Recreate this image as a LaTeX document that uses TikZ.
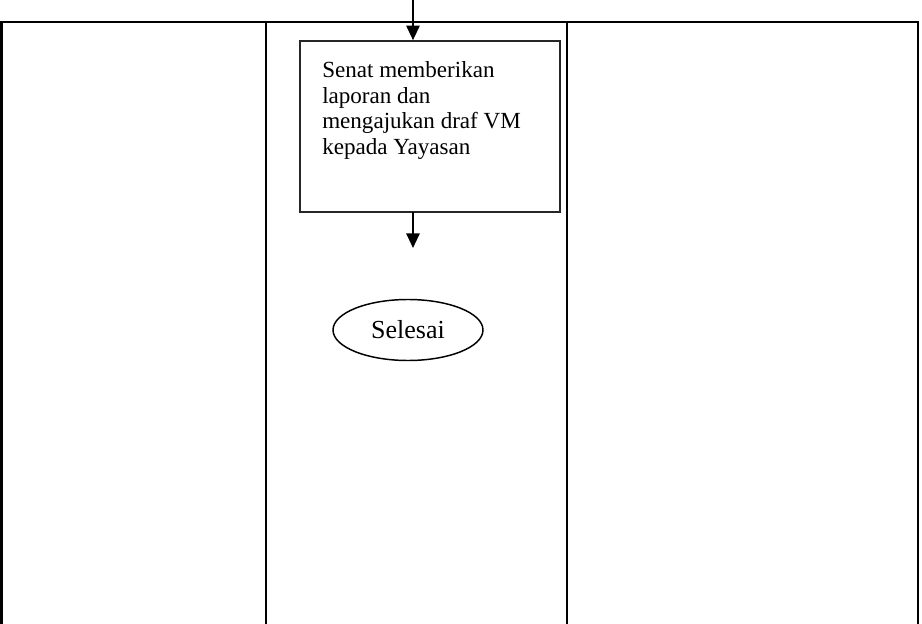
\documentclass[tikz,border=0pt]{standalone}
\usepackage{fontspec}
\setmainfont{Liberation Serif}
\usetikzlibrary{arrows.meta,shapes.geometric}
\begin{document}
\begin{tikzpicture}[x=0.75pt,y=-0.75pt,
  rule/.style={line width=1.6pt,black},
  procbox/.style={draw=black!85,line width=1.2pt,minimum width=260*0.75pt,minimum height=171*0.75pt,inner sep=0pt},
  endnode/.style={draw=black,line width=1.1pt,ellipse,minimum width=150*0.75pt,minimum height=61*0.75pt,inner sep=0pt,font=\fontsize{19.5pt}{22pt}\selectfont},
  flow/.style={line width=1.5pt,-{Triangle[width=10pt,length=11pt]}}]
\useasboundingbox (0,0) rectangle (922,624);
% lane frame
\draw[rule] (1.5,624) -- (1.5,22) -- (918,22) -- (918,624);
\draw[rule] (266,22) -- (266,624);
\draw[rule] (567,22) -- (567,624);
% process step
\node[procbox] (lapor) at (430,126.5) {};
\node[anchor=north west,align=left,inner sep=0pt,
  font=\fontsize{17.3pt}{19.2pt}\selectfont] (txt) at (322,61.5)
  {Senat memberikan\\laporan dan\\mengajukan draf VM\\kepada Yayasan};
% terminator
\node[endnode] (selesai) at (408,330) {Selesai};
% connectors
\coordinate (in) at (413,0);
\draw[flow] (in) -- (in |- lapor.north);
\coordinate (outb) at (413,212);
\coordinate (outt) at (413,248);
\draw[flow] (outb) -- (outt);
\end{tikzpicture}
\end{document}
